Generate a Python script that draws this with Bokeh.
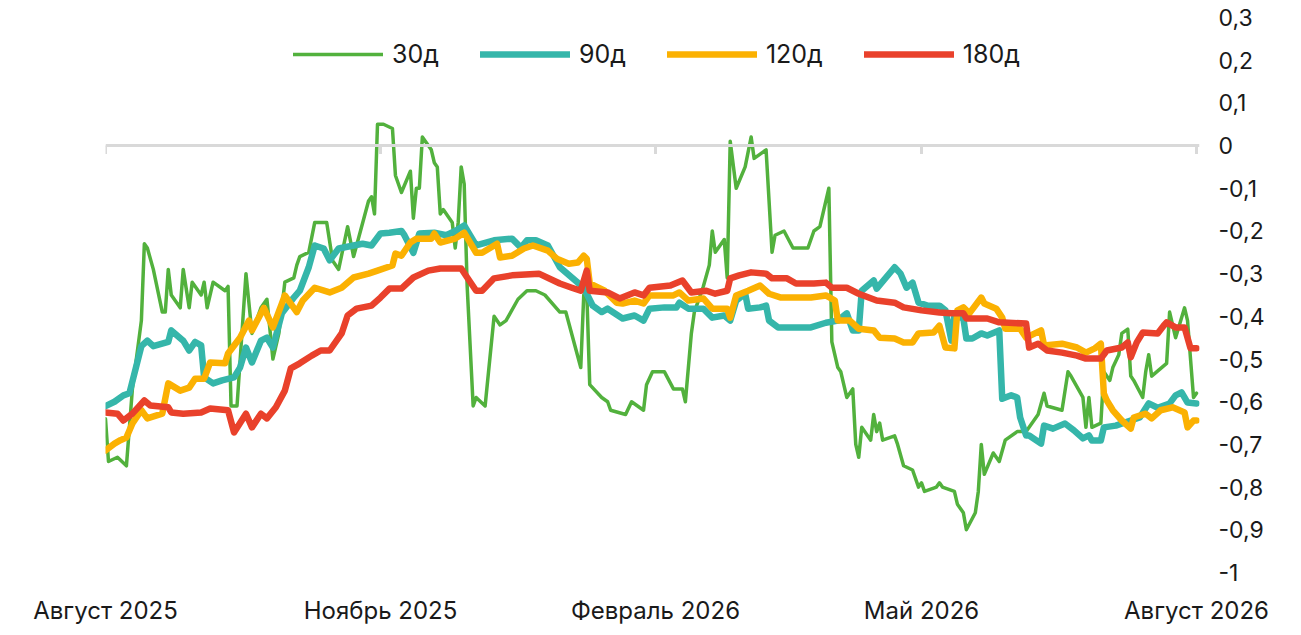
import pandas as pd
from bokeh.plotting import figure
from bokeh.embed import file_html
from bokeh.resources import INLINE
from bokeh.models import (Range1d, Span, FixedTicker, CustomJSTickFormatter,
                          Legend, LegendItem)

# --- data: day offsets from 1 Aug 2025 and values -------------------------
start_date = "2025-08-01"

days_30 = [0, 1, 4, 7, 9, 12, 13, 14, 16, 19,
           20, 21, 22, 25, 26, 28, 29, 32, 33, 34,
           36, 40, 41, 42, 44, 47, 49, 52, 54, 56,
           58, 60, 63, 64, 65, 68, 70, 74, 76, 78,
           81, 83, 88, 89, 90, 91, 93, 96, 97, 99,
           102, 103, 104, 105, 106, 109, 110, 111, 112, 113,
           116, 117, 118, 119, 120, 121, 123, 124, 127, 130,
           132, 134, 138, 141, 144, 147, 152, 154, 159, 160,
           161, 162, 166, 168, 169, 174, 176, 180, 181, 183,
           187, 190, 193, 194, 196, 197, 200, 202, 203, 204,
           207, 208, 209, 211, 214, 216, 217, 221, 223, 224,
           227, 230, 235, 237, 239, 242, 243, 245, 246, 248,
           250, 251, 252, 253, 256, 257, 258, 259, 260, 264,
           265, 267, 270, 272, 273, 274, 278, 279, 280, 284,
           285, 287, 288, 291, 292, 293, 294, 297, 299, 301,
           305, 308, 312, 314, 315, 320, 322, 323, 327, 328,
           329, 330, 333, 334, 336, 337, 339, 340, 342, 343,
           344, 347, 348, 349, 350, 355, 356, 358, 361, 362,
           364, 365]
vals_30 = [-0.64, -0.74, -0.73, -0.75, -0.57, -0.41, -0.23, -0.24, -0.29, -0.39,
           -0.39, -0.29, -0.35, -0.38, -0.29, -0.38, -0.32, -0.35, -0.32, -0.38,
           -0.32, -0.34, -0.33, -0.61, -0.61, -0.30, -0.44, -0.38, -0.36, -0.50,
           -0.44, -0.32, -0.31, -0.28, -0.26, -0.25, -0.18, -0.18, -0.27, -0.29,
           -0.19, -0.26, -0.13, -0.12, -0.16, 0.05, 0.05, 0.04, -0.07, -0.11,
           -0.06, -0.17, -0.10, -0.10, 0.02, -0.01, -0.04, -0.05, -0.16, -0.15,
           -0.18, -0.24, -0.18, -0.05, -0.09, -0.33, -0.61, -0.59, -0.61, -0.40,
           -0.42, -0.41, -0.36, -0.34, -0.34, -0.35, -0.39, -0.39, -0.52, -0.35,
           -0.34, -0.56, -0.59, -0.60, -0.62, -0.63, -0.60, -0.62, -0.56, -0.53,
           -0.53, -0.57, -0.57, -0.60, -0.44, -0.39, -0.33, -0.28, -0.20, -0.25,
           -0.22, -0.31, 0.01, -0.10, -0.05, 0.02, -0.03, -0.01, -0.25, -0.21,
           -0.20, -0.24, -0.24, -0.20, -0.19, -0.10, -0.46, -0.52, -0.53, -0.59,
           -0.57, -0.70, -0.73, -0.66, -0.69, -0.63, -0.67, -0.65, -0.69, -0.68,
           -0.70, -0.75, -0.76, -0.80, -0.79, -0.81, -0.80, -0.79, -0.80, -0.81,
           -0.84, -0.86, -0.90, -0.86, -0.81, -0.70, -0.77, -0.72, -0.74, -0.69,
           -0.67, -0.67, -0.63, -0.58, -0.61, -0.62, -0.53, -0.54, -0.59, -0.66,
           -0.59, -0.66, -0.65, -0.53, -0.55, -0.52, -0.49, -0.44, -0.43, -0.54,
           -0.55, -0.59, -0.53, -0.49, -0.54, -0.51, -0.39, -0.45, -0.38, -0.41,
           -0.59, -0.58]

days_90 = [0, 3, 6, 8, 12, 14, 16, 21, 22, 26,
           28, 30, 32, 33, 36, 39, 43, 45, 47, 49,
           52, 54, 56, 59, 63, 65, 68, 70, 73, 75,
           78, 83, 86, 89, 92, 95, 99, 100, 103, 105,
           110, 114, 117, 120, 124, 130, 136, 139, 141, 144,
           148, 152, 156, 160, 163, 166, 168, 173, 177, 180,
           182, 187, 191, 192, 195, 200, 203, 207, 209, 211,
           214, 215, 219, 221, 222, 225, 236, 241, 245, 248,
           250, 252, 253, 257, 258, 264, 266, 268, 270, 272,
           275, 279, 281, 283, 284, 287, 288, 290, 293, 295,
           299, 300, 303, 305, 306, 308, 309, 313, 314, 317,
           321, 324, 327, 329, 330, 333, 334, 338, 343, 346,
           349, 352, 356, 358, 360, 362, 365]
vals_90 = [-0.61, -0.60, -0.585, -0.58, -0.47, -0.457, -0.47, -0.46, -0.433, -0.457,
           -0.48, -0.46, -0.468, -0.543, -0.557, -0.55, -0.543, -0.52, -0.473, -0.508,
           -0.457, -0.45, -0.473, -0.393, -0.356, -0.34, -0.285, -0.234, -0.241, -0.269,
           -0.241, -0.234, -0.23, -0.234, -0.206, -0.204, -0.2, -0.21, -0.251, -0.206,
           -0.204, -0.21, -0.2, -0.187, -0.234, -0.222, -0.218, -0.239, -0.222, -0.222,
           -0.234, -0.285, -0.309, -0.333, -0.375, -0.39, -0.382, -0.405, -0.398, -0.41,
           -0.382, -0.379, -0.379, -0.368, -0.382, -0.382, -0.403, -0.398, -0.41, -0.363,
           -0.347, -0.382, -0.379, -0.375, -0.41, -0.426, -0.426, -0.415, -0.41, -0.393,
           -0.433, -0.433, -0.34, -0.316, -0.335, -0.285, -0.3, -0.333, -0.321, -0.368,
           -0.375, -0.375, -0.386, -0.457, -0.398, -0.405, -0.452, -0.452, -0.44, -0.445,
           -0.433, -0.593, -0.585, -0.59, -0.637, -0.679, -0.679, -0.698, -0.656, -0.663,
           -0.651, -0.667, -0.686, -0.679, -0.691, -0.691, -0.66, -0.656, -0.644, -0.637,
           -0.604, -0.614, -0.604, -0.585, -0.578, -0.602, -0.604]

days_120 = [0, 3, 5, 7, 9, 12, 14, 19, 21, 25,
            28, 30, 33, 35, 40, 41, 45, 48, 49, 53,
            56, 59, 60, 64, 66, 70, 75, 79, 83, 88,
            91, 96, 97, 99, 102, 104, 109, 110, 112, 117,
            120, 124, 126, 131, 132, 136, 140, 143, 148, 151,
            155, 158, 160, 161, 162, 167, 171, 173, 177, 180,
            182, 190, 192, 195, 200, 203, 208, 209, 211, 215,
            219, 222, 226, 236, 241, 244, 245, 249, 252, 257,
            259, 264, 267, 270, 272, 277, 279, 281, 284, 285,
            287, 289, 293, 294, 298, 300, 301, 306, 308, 313,
            314, 320, 325, 328, 331, 333, 334, 335, 337, 340,
            343, 344, 348, 350, 353, 357, 361, 362, 364, 365]
vals_120 = [-0.714, -0.698, -0.69, -0.684, -0.651, -0.62, -0.639, -0.628, -0.557, -0.574,
            -0.567, -0.546, -0.546, -0.508, -0.51, -0.487, -0.45, -0.41, -0.433, -0.38,
            -0.426, -0.37, -0.351, -0.39, -0.363, -0.333, -0.344, -0.333, -0.309, -0.3,
            -0.293, -0.281, -0.253, -0.258, -0.227, -0.218, -0.218, -0.206, -0.227, -0.218,
            -0.204, -0.251, -0.251, -0.23, -0.262, -0.258, -0.241, -0.234, -0.246, -0.265,
            -0.277, -0.274, -0.258, -0.265, -0.323, -0.34, -0.368, -0.37, -0.363, -0.37,
            -0.351, -0.351, -0.344, -0.363, -0.358, -0.382, -0.382, -0.403, -0.351, -0.34,
            -0.328, -0.347, -0.356, -0.356, -0.351, -0.363, -0.41, -0.41, -0.429, -0.433,
            -0.45, -0.452, -0.461, -0.461, -0.44, -0.438, -0.422, -0.473, -0.475, -0.386,
            -0.379, -0.393, -0.356, -0.37, -0.382, -0.403, -0.429, -0.429, -0.45, -0.433,
            -0.468, -0.464, -0.473, -0.485, -0.475, -0.464, -0.581, -0.597, -0.62, -0.644,
            -0.663, -0.637, -0.628, -0.639, -0.62, -0.613, -0.625, -0.66, -0.644, -0.644]

days_180 = [0, 4, 6, 9, 13, 15, 21, 22, 26, 32,
            35, 41, 43, 47, 49, 52, 54, 57, 60, 62,
            65, 69, 72, 75, 79, 81, 84, 89, 92, 95,
            99, 103, 108, 112, 119, 121, 124, 126, 130, 136,
            145, 152, 156, 159, 161, 162, 168, 172, 177, 180,
            182, 189, 193, 196, 201, 204, 208, 209, 212, 216,
            221, 223, 228, 231, 237, 241, 243, 248, 252, 258,
            264, 267, 273, 279, 283, 287, 288, 295, 299, 308,
            309, 312, 315, 320, 325, 328, 333, 335, 340, 342,
            343, 345, 347, 352, 354, 355, 358, 361, 363, 365]
vals_180 = [-0.625, -0.628, -0.644, -0.628, -0.597, -0.609, -0.613, -0.625, -0.628, -0.625,
            -0.616, -0.62, -0.672, -0.628, -0.66, -0.628, -0.639, -0.613, -0.574, -0.522,
            -0.51, -0.492, -0.48, -0.48, -0.44, -0.398, -0.382, -0.375, -0.356, -0.335,
            -0.335, -0.309, -0.293, -0.288, -0.288, -0.309, -0.34, -0.34, -0.311, -0.304,
            -0.3, -0.323, -0.333, -0.34, -0.293, -0.34, -0.344, -0.358, -0.344, -0.351,
            -0.333, -0.328, -0.316, -0.344, -0.34, -0.347, -0.34, -0.311, -0.304, -0.297,
            -0.3, -0.311, -0.311, -0.323, -0.323, -0.321, -0.333, -0.333, -0.347, -0.363,
            -0.368, -0.379, -0.386, -0.391, -0.393, -0.393, -0.405, -0.405, -0.414, -0.417,
            -0.473, -0.464, -0.48, -0.485, -0.492, -0.499, -0.499, -0.48, -0.473, -0.461,
            -0.496, -0.461, -0.438, -0.44, -0.422, -0.414, -0.426, -0.426, -0.475, -0.475]

series_names = ["30д", "90д", "120д", "180д"]
series_colors = ["#52b13d", "#35b6aa", "#fbb102", "#e9412b"]
series_widths = [3.5, 6.5, 6.5, 6.5]

tick_dates = ["2025-08-01", "2025-11-01", "2026-02-01", "2026-05-01", "2026-08-01"]
tick_labels = ["Август 2025", "Ноябрь 2025", "Февраль 2026", "Май 2026", "Август 2026"]
y_ticks = [0.3, 0.2, 0.1, 0, -0.1, -0.2, -0.3, -0.4, -0.5, -0.6, -0.7, -0.8, -0.9, -1]


def to_dates(days):
    return pd.Timestamp(start_date) + pd.to_timedelta(days, unit="D")


FONT = "Inter"

p = figure(width=1290, height=628, x_axis_type="datetime", y_axis_location="right",
           toolbar_location=None, tools="", output_backend="svg",
           x_range=Range1d(pd.Timestamp("2025-08-01"), pd.Timestamp("2026-08-02")),
           y_range=Range1d(-1, 0.3),
           min_border_left=105, min_border_right=91, min_border_top=17, min_border_bottom=56)
p.xgrid.grid_line_color = None
p.ygrid.grid_line_color = None
p.outline_line_color = None

# zero line with month ticks
p.add_layout(Span(location=0, dimension="width", line_color="#d9d9d9", line_width=3))
tick_dt = list(pd.to_datetime(tick_dates))
p.segment(x0=tick_dt, y0=[0] * len(tick_dt), x1=tick_dt, y1=[-0.02] * len(tick_dt),
          line_color="#d9d9d9", line_width=3)

all_days = [days_30, days_90, days_120, days_180]
all_vals = [vals_30, vals_90, vals_120, vals_180]
items = []
for name, color, w, d, v in zip(series_names, series_colors, series_widths, all_days, all_vals):
    r = p.line(to_dates(d), v, line_color=color, line_width=w,
               line_join="round", line_cap="round")
    items.append(LegendItem(label=name, renderers=[r]))

legend = Legend(items=items, orientation="horizontal", location=(188, 503),
                glyph_width=90, glyph_height=24, label_height=24, label_standoff=9,
                spacing=41, padding=0, margin=0, border_line_alpha=0,
                background_fill_alpha=0, label_text_font=FONT,
                label_text_font_size="25px", label_text_color="#1a1a1a")
p.add_layout(legend)

# x axis: labels only
ticks_ms = [t.timestamp() * 1000 for t in tick_dt]
p.xaxis.ticker = FixedTicker(ticks=ticks_ms)
p.xaxis.formatter = CustomJSTickFormatter(args=dict(tick_ms=ticks_ms, tick_text=tick_labels), code="""
    for (let i = 0; i < tick_ms.length; i++) {
        if (Math.abs(tick_ms[i] - tick) < 1000) { return tick_text[i]; }
    }
    return "";
""")
p.xaxis.axis_line_color = None
p.xaxis.major_tick_line_color = None
p.xaxis.minor_tick_line_color = None
p.xaxis.major_label_standoff = 17
p.xaxis.major_label_text_font = FONT
p.xaxis.major_label_text_font_size = "24px"
p.xaxis.major_label_text_color = "#1a1a1a"

# y axis on the right, comma decimals
p.yaxis.ticker = FixedTicker(ticks=y_ticks)
p.yaxis.formatter = CustomJSTickFormatter(code="""
    return (Math.round(tick * 10) / 10).toString().replace('.', ',');
""")
p.yaxis.axis_line_color = None
p.yaxis.major_tick_line_color = None
p.yaxis.minor_tick_line_color = None
p.yaxis.major_label_standoff = 13
p.yaxis.major_label_text_font = FONT
p.yaxis.major_label_text_font_size = "23px"
p.yaxis.major_label_text_color = "#1a1a1a"

open("out.html", "w").write(file_html(p, INLINE))
